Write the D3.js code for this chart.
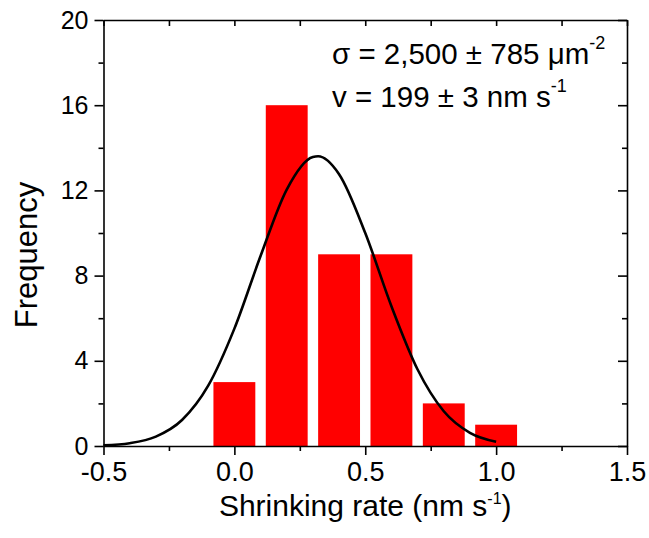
<!DOCTYPE html>
<html>
<head>
<meta charset="utf-8">
<script src="https://cdn.jsdelivr.net/npm/d3@7"></script>
<style>
  html, body { margin: 0; padding: 0; background: #fff; }
  svg { display: block; }
  text { font-family: "Liberation Sans", Arial, Helvetica, sans-serif; fill: #000; }
</style>
</head>
<body>
<svg id="chart" width="649" height="538"></svg>
<script>
// Histogram of shrinking rates (bin centres, nm s^-1) and counts
const binCenters = [0.0, 0.2, 0.4, 0.6, 0.8, 1.0];
const counts = [3, 16, 9, 9, 2, 1];
const binWidth = 0.2;

// Gaussian fit curve, sampled points (x in nm s^-1, frequency)
const fitX = [-0.5, -0.4, -0.3, -0.2, -0.1, 0.0, 0.1, 0.2, 0.3, 0.32, 0.4, 0.5, 0.6, 0.7, 0.8, 0.9, 1.0];
const fitY = [0.03, 0.13, 0.44, 1.22, 2.83, 5.51, 8.92, 12.04, 13.57, 13.6, 12.76, 10.0, 6.56, 3.59, 1.63, 0.62, 0.2];

// Axis ticks
const xMajorTicks = [-0.5, 0.0, 0.5, 1.0, 1.5];
const xMinorTicks = [-0.25, 0.25, 0.75, 1.25];
const yMajorTicks = [0, 4, 8, 12, 16, 20];
const yMinorTicks = [2, 6, 10, 14, 18];

const svg = d3.select("#chart");
const plotLeft = 103.5, plotRight = 627, plotTop = 20, plotBottom = 446;

const x = d3.scaleLinear().domain([-0.5, 1.5]).range([plotLeft, plotRight]);
const y = d3.scaleLinear().domain([0, 20]).range([plotBottom, plotTop]);

// Bars (80% of bin width)
const barW = binWidth * 0.8;
svg.append("g").selectAll("rect")
  .data(binCenters.map((c, i) => ({ c, n: counts[i] })))
  .join("rect")
  .attr("x", d => x(d.c - barW / 2))
  .attr("width", d => x(d.c + barW / 2) - x(d.c - barW / 2))
  .attr("y", d => y(d.n))
  .attr("height", d => y(0) - y(d.n))
  .attr("fill", "#ff0000");

// Fit curve
const line = d3.line()
  .x(d => x(d[0]))
  .y(d => y(d[1]))
  .curve(d3.curveMonotoneX);
svg.append("path")
  .datum(fitX.map((v, i) => [v, fitY[i]]))
  .attr("d", line)
  .attr("fill", "none")
  .attr("stroke", "#000")
  .attr("stroke-width", 2.6);

// Axes: bottom/left ticks outward, top/right ticks inward
const majorLen = 9, minorLen = 5;
const axisStroke = 1.6;
function styleAxis(g) {
  g.select(".domain").attr("stroke-width", axisStroke);
  g.selectAll(".tick line").attr("stroke-width", axisStroke);
}

const bottomAxis = svg.append("g")
  .attr("transform", `translate(0,${plotBottom})`)
  .call(d3.axisBottom(x).tickValues(xMajorTicks).tickFormat(d => d3.format(".1f")(d).replace("\u2212", "-")).tickSizeInner(majorLen).tickSizeOuter(0).tickPadding(7));
bottomAxis.call(styleAxis);
bottomAxis.selectAll(".tick text").attr("font-size", 27).attr("font-family", "Liberation Sans, Arial, sans-serif");
svg.append("g").attr("transform", `translate(0,${plotBottom})`)
  .call(d3.axisBottom(x).tickValues(xMinorTicks).tickFormat("").tickSizeInner(minorLen).tickSizeOuter(0))
  .call(g => g.select(".domain").remove())
  .call(styleAxis);

const leftAxis = svg.append("g")
  .attr("transform", `translate(${plotLeft},0)`)
  .call(d3.axisLeft(y).tickValues(yMajorTicks).tickSizeInner(majorLen).tickSizeOuter(0).tickPadding(6));
leftAxis.call(styleAxis);
leftAxis.selectAll(".tick text").attr("font-size", 25).attr("font-family", "Liberation Sans, Arial, sans-serif");
svg.append("g").attr("transform", `translate(${plotLeft},0)`)
  .call(d3.axisLeft(y).tickValues(yMinorTicks).tickFormat("").tickSizeInner(minorLen).tickSizeOuter(0))
  .call(g => g.select(".domain").remove())
  .call(styleAxis);

// Mirrored top and right axes with inward ticks
svg.append("g").attr("transform", `translate(0,${plotTop})`)
  .call(d3.axisBottom(x).tickValues(xMajorTicks.concat(xMinorTicks)).tickFormat("").tickSizeInner(6).tickSizeOuter(0))
  .call(styleAxis);
svg.append("g").attr("transform", `translate(${plotRight},0)`)
  .call(d3.axisLeft(y).tickValues(yMajorTicks).tickFormat("").tickSizeInner(majorLen).tickSizeOuter(0))
  .call(styleAxis);
svg.append("g").attr("transform", `translate(${plotRight},0)`)
  .call(d3.axisLeft(y).tickValues(yMinorTicks).tickFormat("").tickSizeInner(minorLen).tickSizeOuter(0))
  .call(g => g.select(".domain").remove())
  .call(styleAxis);

// Axis titles
const xTitle = svg.append("text")
  .attr("x", (plotLeft + plotRight) / 2).attr("y", 516)
  .attr("text-anchor", "middle").attr("font-size", 30);
xTitle.append("tspan").text("Shrinking rate (nm s");
xTitle.append("tspan").attr("font-size", 16).attr("dy", -12).text("-1");
xTitle.append("tspan").attr("dy", 12).text(")");

svg.append("text")
  .attr("transform", `translate(37,255) rotate(-90)`)
  .attr("text-anchor", "middle").attr("font-size", 31)
  .text("Frequency");

// Fit annotation
const note1 = svg.append("text").attr("x", 332).attr("y", 64).attr("font-size", 29.5);
note1.append("tspan").text("σ = 2,500 ± 785 μm");
note1.append("tspan").attr("font-size", 18).attr("dy", -15).text("-2");
const note2 = svg.append("text").attr("x", 332).attr("y", 107).attr("font-size", 29.5);
note2.append("tspan").text("v = 199 ± 3 nm s");
note2.append("tspan").attr("font-size", 18).attr("dy", -15).text("-1");
</script>
</body>
</html>
